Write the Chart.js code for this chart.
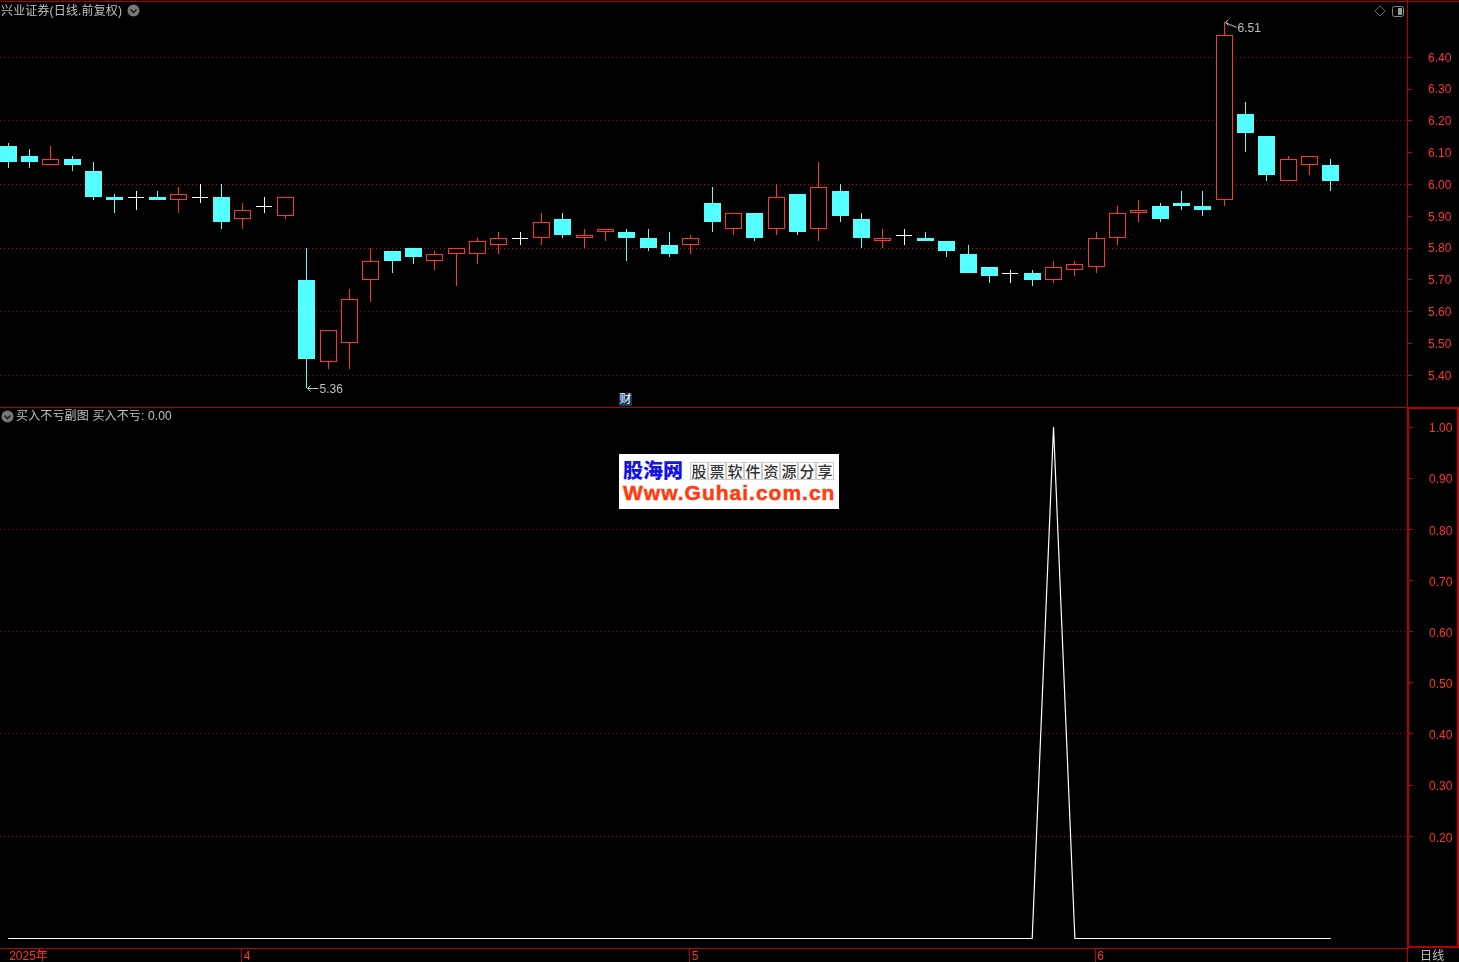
<!DOCTYPE html>
<html>
<head>
<meta charset="utf-8">
<script src="https://cdn.jsdelivr.net/npm/chart.js@4"></script>
<style>
html,body{margin:0;padding:0;background:#000;width:1459px;height:962px;overflow:hidden}
canvas{position:absolute;left:0}
.t{position:absolute;color:#c0c0c0;font:12px/14px "Liberation Sans","Noto Sans CJK SC",sans-serif;white-space:pre;letter-spacing:.15px}
.l{position:absolute;background:#b40000}
svg{position:absolute}
#logo{position:absolute;left:619px;top:454px;width:220px;height:55px;background:#fff;overflow:hidden}
#logo div{position:absolute;white-space:nowrap}
#cells{left:71px;top:8px;display:flex}
#cells span{display:block;width:18px;height:18px;box-sizing:border-box;border:1px solid #ccc;color:#333;font:500 15px/15px "Noto Sans CJK SC";text-align:center;overflow:hidden}
</style>
</head>
<body>
<canvas id="top" width="1459" height="407" style="top:0"></canvas>
<canvas id="bottom" width="1459" height="555" style="top:407px"></canvas>

<div class="l" style="left:0;top:1px;width:1459px;height:1px"></div>
<div class="l" style="left:0;top:407px;width:1459px;height:1px"></div>
<div style="position:absolute;left:1407px;top:407px;width:48px;height:537px;border:2px solid #b40000"></div>
<div class="l" style="left:1407px;top:948px;width:1px;height:14px"></div>

<div class="t" style="left:1px;top:4px">兴业证券(日线.前复权)</div>
<svg style="left:127px;top:4px" width="13" height="13"><circle cx="6.5" cy="6.5" r="6" fill="#787878"/><path d="M3.5 5.5L6.5 8.5L9.5 5.5" fill="none" stroke="#111" stroke-width="1.3"/></svg>
<svg style="left:1374px;top:5px" width="32" height="14"><path d="M6 1L11 6L6 11L1 6Z" fill="none" stroke="#666"/><rect x="18.5" y="1.5" width="11" height="10" rx="2" fill="none" stroke="#888"/><rect x="24" y="3" width="4" height="7" fill="#999"/></svg>
<svg style="left:1px;top:410px" width="13" height="13"><circle cx="6.5" cy="6.5" r="6" fill="#787878"/><path d="M3.5 5.5L6.5 8.5L9.5 5.5" fill="none" stroke="#111" stroke-width="1.3"/></svg>
<div class="t" style="left:16px;top:409px">买入不亏副图 买入不亏: 0.00</div>
<div class="t" style="left:619px;top:393px;width:13px;height:13px;background:#0b3a66;color:#fff;line-height:13px;overflow:hidden;text-align:center;letter-spacing:0">财</div>
<div class="t" style="left:1420px;top:949px;height:13px;overflow:hidden">日线</div>

<div id="logo">
  <div style="left:4px;top:3px;color:#1414e6;font:900 20px/26px 'Noto Sans CJK SC';letter-spacing:0">股海网</div>
  <div id="cells"><span>股</span><span>票</span><span>软</span><span>件</span><span>资</span><span>源</span><span>分</span><span>享</span></div>
  <div style="left:4px;top:27px;color:#ff3c10;font:bold 21px/24px 'Liberation Sans';letter-spacing:1px;-webkit-text-stroke:.5px #ff3c10">Www.Guhai.com.cn</div>
</div>

<script>
// ---------- price data (one entry per trading day) ----------
const opens  = [6.12,6.09,6.06,6.08,6.04,5.96,5.96,5.96,5.95,5.96,5.96,5.89,5.93,5.90,5.70,5.44,5.50,
                5.70,5.79,5.80,5.76,5.78,5.78,5.81,5.83,5.83,5.89,5.83,5.85,5.85,5.83,5.81,5.81,
                5.94,5.86,5.91,5.86,5.97,5.86,5.98,5.89,5.82,5.84,5.83,5.82,5.78,5.74,5.72,5.72,
                5.70,5.73,5.74,5.83,5.91,5.93,5.94,5.93,5.95,6.22,6.15,6.01,6.06,6.06];
const closes = [6.07,6.07,6.08,6.06,5.96,5.95,5.96,5.95,5.97,5.96,5.88,5.92,5.93,5.96,5.45,5.54,5.64,
                5.76,5.76,5.77,5.78,5.80,5.82,5.83,5.83,5.88,5.84,5.84,5.86,5.83,5.80,5.78,5.83,
                5.88,5.91,5.83,5.96,5.85,5.99,5.90,5.83,5.83,5.84,5.82,5.79,5.72,5.71,5.72,5.70,
                5.74,5.75,5.83,5.91,5.92,5.89,5.93,5.92,6.47,6.16,6.03,6.08,6.09,6.01];
const highs  = [6.13,6.11,6.12,6.09,6.07,5.97,5.98,5.98,5.99,6.00,6.00,5.94,5.96,5.96,5.80,5.54,5.67,
                5.80,5.79,5.80,5.79,5.80,5.83,5.85,5.85,5.91,5.91,5.86,5.86,5.86,5.86,5.85,5.84,
                5.99,5.91,5.91,6.00,5.97,6.07,6.00,5.91,5.86,5.86,5.85,5.82,5.81,5.74,5.73,5.73,
                5.76,5.76,5.85,5.93,5.95,5.94,5.98,5.98,6.51,6.26,6.15,6.09,6.09,6.08];
const lows   = [6.05,6.05,6.06,6.04,5.95,5.91,5.92,5.95,5.91,5.94,5.86,5.86,5.91,5.89,5.36,5.42,5.42,
                5.63,5.72,5.75,5.73,5.68,5.75,5.78,5.81,5.81,5.83,5.80,5.82,5.76,5.79,5.77,5.78,
                5.85,5.84,5.82,5.84,5.84,5.82,5.88,5.80,5.80,5.81,5.82,5.77,5.72,5.69,5.69,5.68,
                5.69,5.71,5.72,5.81,5.88,5.88,5.92,5.90,5.93,6.10,6.01,6.01,6.03,5.98];

// ---------- indicator data ----------
const indicator = [0,0,0,0,0,0,0,0,0,0,0,0,0,0,0,0,0,0,0,0,0,0,0,0,0,0,0,0,0,0,0,0,0,
                   0,0,0,0,0,0,0,0,0,0,0,0,0,0,0,0,1,0,0,0,0,0,0,0,0,0,0,0,0,0];

// ---------- axes ----------
const priceTicks = [5.4,5.5,5.6,5.7,5.8,5.9,6.0,6.1,6.2,6.3,6.4];
const priceGrid  = {6.4:'dim',6.2:'dim',6.0:'bright',5.8:'bright',5.6:'dim',5.4:'dim'};
const valueTicks = [0.2,0.3,0.4,0.5,0.6,0.7,0.8,0.9,1.0];
const valueGrid  = {0.8:'dim',0.6:'dim',0.4:'dim',0.2:'bright'};
const monthIndex  = [0,11,32,51];
const monthLabels = ['2025年','4','5','6'];
const extremes = [{i:14,v:5.36,label:'5.36',dy:0},{i:57,v:6.51,label:'6.51',dy:5}];

const RED='#ff3232', CYAN='#54ffff', WHITE='#ffffff', AXIS='#b40000';
const gridColors={bright:'#d00000',dim:'#a00000'};
const FONT='"Liberation Sans","Noto Sans CJK SC",sans-serif';
const STEP=21.3333, X0=8.2;

const kind=i=>closes[i]>opens[i]?'up':closes[i]<opens[i]?'down':'flat';
const col=i=>({up:RED,down:CYAN,flat:WHITE})[kind(i)];
const idx=opens.map((_,i)=>i);
const pick=k=>idx.filter(i=>kind(i)===k).map(i=>({x:i,y:[opens[i],closes[i]]}));
const barBase={grouped:false,inflateAmount:0,borderSkipped:false,order:1};

// snap bars on the pixel grid, so they are as crisp as the reference
const snapBars={id:'snapBars',beforeDatasetsDraw(chart){
  chart.data.datasets.forEach((ds,n)=>{
    chart.getDatasetMeta(n).data.forEach(el=>{
      const even=ds.barThickness%2===0;
      el.x=Math.floor(el.x)+(even?0:.5);
      el.y=Math.floor(el.y+.2);el.base=Math.floor(el.base+.2);
      if(el.base===el.y)el.base=el.y+1;
    });
  });
}};
const marks={id:'marks',afterDatasetsDraw(chart){
  const c=chart.ctx,xs=chart.scales.x,ys=chart.scales.y;
  c.save();
  extremes.forEach(m=>{
    const x=Math.floor(xs.getPixelForValue(m.i))+.5,y=Math.round(ys.getPixelForValue(m.v))+.5;
    c.strokeStyle='#c0c0c0';c.lineWidth=1;c.beginPath();
    c.moveTo(x+1,y);c.lineTo(x+12,y+m.dy);
    c.moveTo(x+4,y-3);c.lineTo(x+1,y);c.lineTo(x+4,y+3);c.stroke();
    c.fillStyle='#c0c0c0';c.font='12px '+FONT;c.textAlign='left';c.textBaseline='middle';
    c.fillText(m.label,x+13,y+m.dy+1);
  });
  c.restore();
}};
const noPad=s=>{s.paddingTop=s.paddingBottom=s.paddingLeft=s.paddingRight=0;};

function yAxis(min,max,values,gridMap,width,labelOffset){
  return {position:'right',min,max,
    afterBuildTicks:s=>{s.ticks=values.map(v=>({value:v}));},
    afterFit:s=>{s.width=width;noPad(s);},
    border:{display:false,dash:[1,3]},
    grid:{color:c=>c.tick&&gridMap[c.tick.value]?gridColors[gridMap[c.tick.value]]:'transparent',
          tickColor:AXIS,tickLength:5,tickBorderDash:[],lineWidth:1},
    ticks:{color:RED,padding:16,labelOffset,font:{size:12,family:FONT},autoSkip:false,callback:v=>Number(v).toFixed(2)}};
}
// border.dash also applies to the axis line, so draw that line separately
const axisLine=(w,x)=>({id:'axisLine',afterDraw(chart){
  const c=chart.ctx,a=chart.chartArea;c.save();c.fillStyle=AXIS;c.fillRect(x,a.top,w,a.bottom-a.top);c.restore();
}});

Chart.defaults.animation=false;
new Chart(document.getElementById('top'),{
  type:'bar',
  data:{datasets:[
    {label:'wick',order:2,grouped:false,inflateAmount:0,barThickness:1,borderWidth:0,
     data:idx.map(i=>({x:i,y:[lows[i],highs[i]]})),backgroundColor:idx.map(col)},
    {...barBase,label:'up',barThickness:17,data:pick('up'),backgroundColor:'#000',borderColor:RED,borderWidth:1},
    {...barBase,label:'down',barThickness:17,data:pick('down'),backgroundColor:CYAN,borderWidth:0},
    {...barBase,label:'flat',barThickness:16,data:pick('flat'),backgroundColor:WHITE,borderWidth:0}
  ]},
  options:{responsive:false,animation:false,
    layout:{padding:0,autoPadding:false},
    plugins:{legend:{display:false},tooltip:{enabled:false}},
    scales:{
      x:{type:'linear',display:false,offset:false,min:-X0/STEP,max:(1407-X0)/STEP,afterFit:noPad},
      y:yAxis(6-(407-184.5)/318,6+184.5/318,priceTicks,priceGrid,52,1)
    }},
  plugins:[snapBars,marks,axisLine(1,1407)]
});

new Chart(document.getElementById('bottom'),{
  type:'line',
  data:{datasets:[{label:'买入不亏',data:idx.map(i=>({x:i,y:indicator[i]})),borderColor:WHITE,borderWidth:1.2,
                   pointRadius:0,tension:0,fill:false}]},
  options:{responsive:false,animation:false,
    layout:{padding:{top:1,left:0,right:0,bottom:0},autoPadding:false},
    plugins:{legend:{display:false},tooltip:{enabled:false}},
    scales:{
      x:{type:'linear',min:-X0/STEP,max:(1408-X0)/STEP,
         afterBuildTicks:s=>{s.ticks=monthIndex.map(v=>({value:v-0.05}));},
         afterFit:s=>{s.height=14;noPad(s);},
         border:{color:AXIS,width:1},
         grid:{drawOnChartArea:false,tickLength:14,tickColor:c=>c.index===0?'transparent':AXIS},
         ticks:{color:RED,align:'start',labelOffset:2,padding:-13,maxRotation:0,autoSkip:false,
                font:{size:12,family:FONT},callback:(v,i)=>monthLabels[i]}},
      y:yAxis((938.5-948)/511.5,(938.5-408)/511.5,valueTicks,valueGrid,51,2)
    }}
});
</script>
</body>
</html>
